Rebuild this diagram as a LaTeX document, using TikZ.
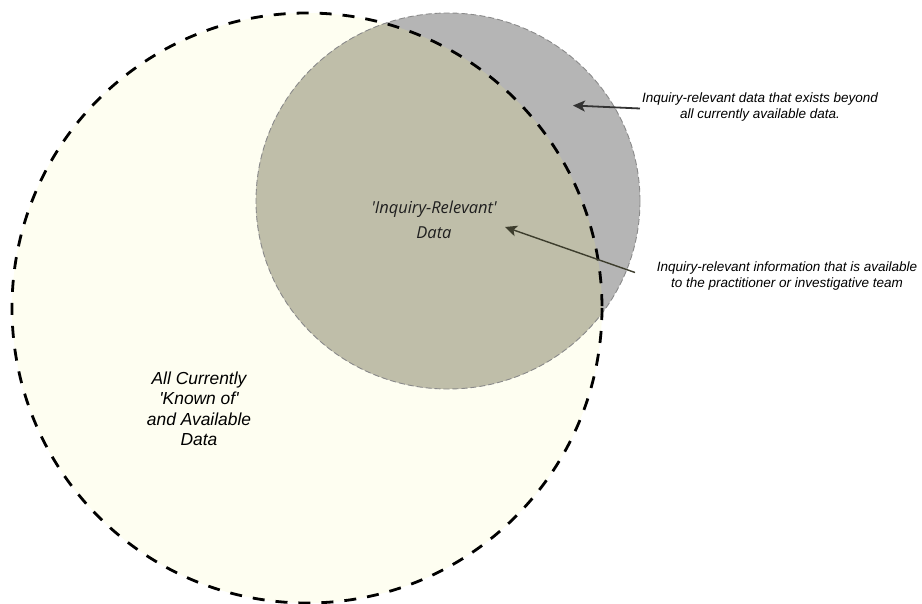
\documentclass[tikz,border=0pt]{standalone}
\usepackage{fontspec}
\setmainfont{Liberation Sans}[Ligatures=TeXOff]
\newfontfamily\opensans{Open Sans}[Ligatures=TeXOff]
\usetikzlibrary{arrows.meta}
\definecolor{bigfill}{HTML}{FEFEF1}
\definecolor{smallfill}{HTML}{B5B5B5}
\definecolor{overlapfill}{HTML}{BFBEA9}
\definecolor{smallborder}{HTML}{8A8A8A}
\definecolor{arrowA}{HTML}{333333}
\definecolor{arrowB}{HTML}{3D3D2D}
\begin{document}
\begin{tikzpicture}[x=1pt,y=-1pt,
  bigline/.style={line width=2.8pt, dash pattern=on 12pt off 11pt},
  smallline/.style={draw=smallborder, line width=0.9pt, dash pattern=on 6pt off 3pt},
  note/.style={font=\fontsize{13.5}{16}\selectfont\itshape, align=center, inner sep=0pt},
  biglabel/.style={font=\fontsize{17.4}{20.5}\selectfont\itshape, align=center, inner sep=0pt},
  midlabel/.style={font=\opensans\itshape\fontsize{16.5}{25}\selectfont, align=center, inner sep=0pt, text=black!88},
  pointer/.style={-{Stealth[length=12pt,width=11pt,inset=3pt]}}
]
\useasboundingbox (0,0) rectangle (922,604);
% fills
\fill[bigfill] (307,308) circle[radius=295];
\fill[smallfill] (448,201) ellipse[x radius=192, y radius=188];
\begin{scope}
  \clip (307,308) circle[radius=295];
  \fill[overlapfill] (448,201) ellipse[x radius=192, y radius=188];
\end{scope}
% borders
\draw[smallline] (448,201) ellipse[x radius=192, y radius=188];
\draw[bigline] (307,308) circle[radius=295];
% labels
\node[biglabel] (all) at (199,409) {All Currently\\'Known of'\\and Available\\Data};
\node[midlabel] (rel) at (434,219.5) {'Inquiry-Relevant'\\Data};
\node[note] (beyond) at (760,107) {Inquiry-relevant data that exists beyond\\all currently available data.};
\node[note] (avail) at (787,276) {Inquiry-relevant information that is available\\to the practitioner or investigative team};
% arrows
\coordinate (tipA) at (573,105.5);
\coordinate (tailB) at (635,272.5);
\coordinate (tipB) at (505,227);
\draw[pointer, arrowA, line width=1.8pt] ([xshift=-2pt,yshift=-1.5pt]beyond.west) -- (tipA);
\draw[pointer, arrowB, line width=1.4pt] (tailB) -- (tipB);
\end{tikzpicture}
\end{document}
